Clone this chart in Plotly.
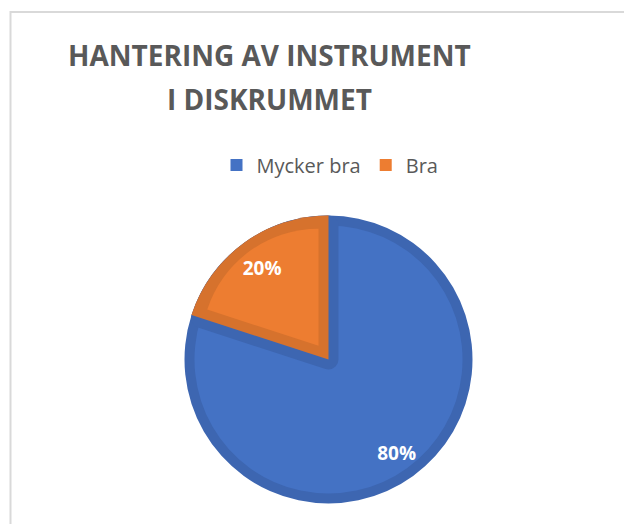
import plotly.graph_objects as go

# ---- data ----
labels = ["Mycker bra", "Bra"]
values = [80, 20]
title_lines = ["HANTERING AV INSTRUMENT", "I DISKRUMMET"]

# ---- styles ----
LIGHT = ["#4472C4", "#ED7D31"]
DARK = ["#3D66B1", "#D6722D"]
CLEAR = "rgba(0,0,0,0)"
GRAY = "#595959"
OFF = 8  # page body margin
W, H = 632 - OFF, 524 - OFF
CX, CY, R = 328.5 - OFF, 359.5 - OFF, 144.0
BORDER = 10.0


def px(x):
    return (x - OFF) / W


def py(y):
    return 1 - (y - OFF) / H


def dom(half):
    return dict(x=[(CX - half) / W, (CX + half) / W],
                y=[1 - (CY + half) / H, 1 - (CY - half) / H])


common = dict(labels=labels, values=values, sort=False, direction="clockwise",
              rotation=0, hoverinfo="skip", textinfo="none")

fig = go.Figure()
# legend carrier (hidden beneath)
fig.add_trace(go.Pie(**common, domain=dom(R - 40), marker=dict(colors=LIGHT),
                     showlegend=True))
# dark full disc
fig.add_trace(go.Pie(**common, domain=dom(R), marker=dict(colors=DARK),
                     showlegend=False))
# light blue body + dark-blue band along shared edges
fig.add_trace(go.Pie(**common, domain=dom(R - BORDER),
                     marker=dict(colors=[LIGHT[0], CLEAR],
                                 line=dict(color=[CLEAR, DARK[0]], width=2 * BORDER)),
                     showlegend=False))
# dark orange sector
fig.add_trace(go.Pie(**common, domain=dom(R), marker=dict(colors=[CLEAR, DARK[1]]),
                     showlegend=False))
# inset light orange sector
shift = BORDER / 0.5878
rC = R - BORDER - shift
pC = shift / rC
fig.add_trace(go.Pie(**common, domain=dom(rC * (1 + pC)), pull=[0, pC],
                     marker=dict(colors=[CLEAR, LIGHT[1]]), showlegend=False))
# labels (plotly centres inside text at rCenter = 0.5 for the big slice, 0.63 for the small)
rT = 90.0
pB = 116.0 / rT - 0.5
pO = 113.0 / rT - 0.6298
text_common = dict(common)
text_common.pop("textinfo")
fig.add_trace(go.Pie(**text_common, domain=dom(rT * (1 + max(pB, pO))), pull=[pB, pO],
                     marker=dict(colors=[CLEAR, CLEAR]), textinfo="percent",
                     textposition="inside", insidetextorientation="horizontal",
                     insidetextfont=dict(family="Open Sans", size=19, color="white",
                                         weight="bold"),
                     showlegend=False))

annotations = []
for i, line in enumerate(title_lines):
    annotations.append(dict(text="<b>" + line + "</b>", x=px(269), y=py(55 + 44.5 * i),
                            xref="paper", yref="paper", xanchor="center", yanchor="middle",
                            showarrow=False,
                            font=dict(family="Open Sans", size=28, color=GRAY)))

fig.update_layout(
    width=W, height=H,
    margin=dict(l=0, r=0, t=0, b=0),
    paper_bgcolor="white", plot_bgcolor="white",
    showlegend=True,
    legend=dict(orientation="h", x=px(330), xanchor="center", y=py(165),
                yanchor="middle", font=dict(family="Open Sans", size=20, color=GRAY),
                itemclick=False, itemdoubleclick=False),
    annotations=annotations,
    shapes=[
        dict(type="line", xref="paper", yref="paper", x0=px(10.5), x1=px(10.5),
             y0=0, y1=py(11), line=dict(color="#D9D9D9", width=2)),
        dict(type="line", xref="paper", yref="paper", x0=px(10.5), x1=1,
             y0=py(12), y1=py(12), line=dict(color="#D9D9D9", width=2)),
    ],
)

fig.write_html("out.html")
